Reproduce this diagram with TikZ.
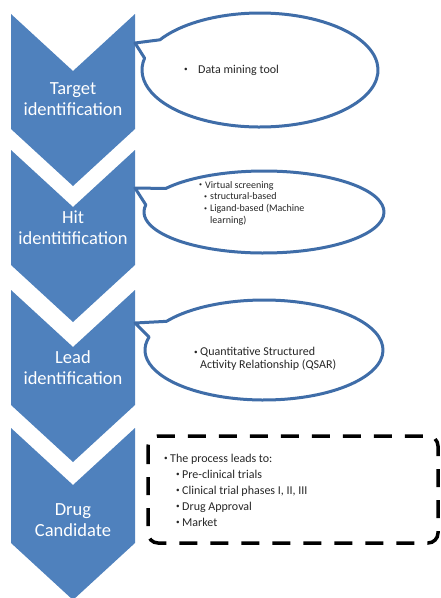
\documentclass[tikz,border=0pt]{standalone}
\usepackage{fontspec}
\setmainfont{Carlito}
\usetikzlibrary{positioning}

\definecolor{stageblue}{HTML}{4F81BD}
\definecolor{lineblue}{HTML}{3F6DA8}
\newcommand\bul[1][6pt]{\makebox[#1][l]{\raisebox{0.13em}{\scalebox{0.6}{\textbullet}}}}

\begin{document}
\begin{tikzpicture}[x=1pt,y=-1pt,
		stage/.style={fill=stageblue},
		stage label/.style={text=white,align=center,font=\fontsize{18.5}{21}\selectfont},
		callout/.style={draw=lineblue,fill=white,line width=3pt,line join=round},
		dashbox/.style={draw=black,line width=3.5pt,dash pattern=on 18pt off 13pt,rounded corners=10pt},
		note/.style={anchor=west,align=left,inner sep=0pt,text=black!85}]
		
		\useasboundingbox (0,0) rectangle (441,598);
		
		% chevrons
		\fill[stage] (11,14) -- ++(62,57) -- ++(62,-57) -- ++(0,115) -- ++(-62,57) -- ++(-62,-57) -- cycle;
		\fill[stage] (11,150) -- ++(62,57) -- ++(62,-57) -- ++(0,115) -- ++(-62,57) -- ++(-62,-57) -- cycle;
		\fill[stage] (11,290) -- ++(62,57) -- ++(62,-57) -- ++(0,115) -- ++(-62,57) -- ++(-62,-57) -- cycle;
		\fill[stage] (11,428) -- ++(62,57) -- ++(62,-57) -- ++(0,115) -- ++(-62,57) -- ++(-62,-57) -- cycle;
		
		\node[stage label] (s1) at (73,99) {Target\\identification};
		\node[stage label] (s2) at (73,228) {Hit\\identitification};
		\node[stage label] (s3) at (73,368) {Lead\\identification};
		\node[stage label] (s4) at (73,520) {Drug\\Candidate};
		
		% callouts
		\coordinate (c1) at (260,70);
		\coordinate (tip1) at (135,43);
		\coordinate (c2) at (264,212);
		\coordinate (tip2) at (135,188);
		\coordinate (c3) at (264,350);
		\coordinate (tip3) at (135,323);
		
		\draw[callout] (tip1) -- ([shift={(c1)}]212:118 and 57)
			arc[start angle=212,end angle=552,x radius=118,y radius=57] -- cycle;
		\draw[callout] (tip2) -- ([shift={(c2)}]215:120 and 41)
			arc[start angle=215,end angle=550,x radius=120,y radius=41] -- cycle;
		\draw[callout] (tip3) -- ([shift={(c3)}]215:119 and 50)
			arc[start angle=215,end angle=555,x radius=119,y radius=50] -- cycle;
		
		\draw[dashbox] (148,436) rectangle (438,543);
		
		\node[note,font=\fontsize{12}{14}\selectfont] (n1) at (184,70) {\bul[14pt]Data mining tool};
		\node[note,font=\fontsize{10}{11.7}\selectfont] (n2) at (199,203)
			{\bul Virtual screening\\\hspace*{5pt}\bul structural-based\\\hspace*{5pt}\bul Ligand-based (Machine\\\hspace*{11pt}learning)};
		\node[note,font=\fontsize{12}{12.5}\selectfont] (n3) at (194,359)
			{\bul Quantitative Structured\\\hspace*{6pt}Activity Relationship (QSAR)};
		\node[note,font=\fontsize{12}{16}\selectfont] (n4) at (164,490)
			{\bul The process leads to:\\\hspace*{12pt}\bul Pre-clinical trials\\\hspace*{12pt}\bul Clinical trial phases I, II, III\\\hspace*{12pt}\bul Drug Approval\\\hspace*{12pt}\bul Market};
\end{tikzpicture}
\end{document}
